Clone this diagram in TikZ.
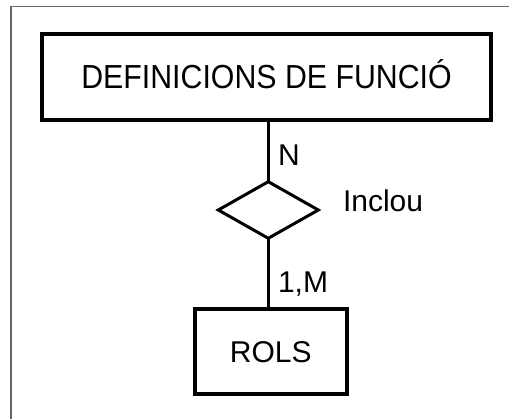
\documentclass[tikz,border=0pt]{standalone}
\usepackage{fontspec}
\setmainfont{Liberation Sans}
\usetikzlibrary{shapes.geometric}
\begin{document}
\begin{tikzpicture}[x=1pt,y=-1pt,
  entity/.style={draw=black,line width=4pt,rectangle,inner sep=0pt,outer sep=0pt,
    text height=21.5pt,text depth=0pt,font=\fontsize{30}{36}\selectfont},
  relation/.style={draw=black,line width=3pt,diamond,inner sep=0pt,outer sep=0pt,
    minimum width=100pt,minimum height=56.6pt},
  lbl/.style={inner sep=0pt,outer sep=0pt,anchor=base west,font=\fontsize{30}{36}\selectfont},
  link/.style={draw=black,line width=3pt}]
\useasboundingbox (0,0) rectangle (509,419);
\draw[draw=black!60,line width=1.5pt] (11,419) -- (11,6.5) -- (509,6.5);
\node[entity,minimum width=449pt,minimum height=86pt,text height=24pt,
  font=\fontsize{30.3}{36}\selectfont] (def) at (266.5,77)
  {\scalebox{1}[1.1]{DEFINICIONS DE FUNCIÓ}};
\node[relation] (inc) at (268.3,210) {};
\node[entity,minimum width=152.5pt,minimum height=85pt] (rol) at (270.8,352) {ROLS};
\draw[link] (def.south -| inc.north) -- (inc.north);
\draw[link] (inc.south) -- (inc.south |- rol.north);
\node[lbl] (n) at (278,166) {N};
\node[lbl] (incl) at (343,212) {Inclou};
\node[lbl] (m) at (278,293) {1,M};
\end{tikzpicture}
\end{document}
